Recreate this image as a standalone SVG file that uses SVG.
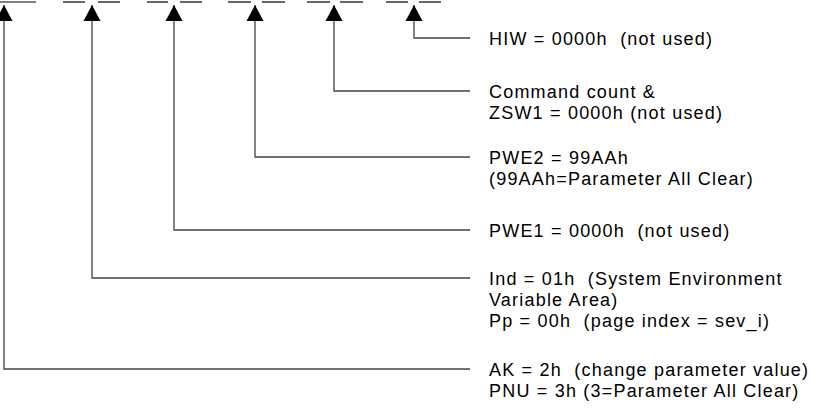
<svg xmlns="http://www.w3.org/2000/svg" width="827" height="409" viewBox="0 0 827 409">
<style>
.t{font-family:"Liberation Sans",Arial,sans-serif;font-size:18px;letter-spacing:1.2px;fill:#000}
.c{fill:none;stroke:#444;stroke-width:1.3}
.u{stroke:#000;stroke-width:1.2}
</style>
<defs>
<marker id="ah" markerWidth="17" markerHeight="17" refX="8.5" refY="0" orient="0" markerUnits="userSpaceOnUse" viewBox="0 0 17 17" overflow="visible">
<path d="M8.5 0 L17 16 L0 16 Z" fill="#000"/>
</marker>
</defs>
<rect width="827" height="409" fill="#fff"/>
<g id="header">
<line class="u" x1="0" y1="2" x2="36" y2="2"/>
<line class="u" x1="63" y1="2" x2="85" y2="2"/>
<line class="u" x1="98" y1="2" x2="120" y2="2"/>
<line class="u" x1="147" y1="2" x2="168" y2="2"/>
<line class="u" x1="180" y1="2" x2="202" y2="2"/>
<line class="u" x1="228" y1="2" x2="251" y2="2"/>
<line class="u" x1="262" y1="2" x2="285" y2="2"/>
<line class="u" x1="307" y1="2" x2="330" y2="2"/>
<line class="u" x1="340" y1="2" x2="363" y2="2"/>
<line class="u" x1="386" y1="2" x2="408" y2="2"/>
<line class="u" x1="419" y1="2" x2="441" y2="2"/>
</g>
<g id="connectors">
<polyline class="c" points="470,369 4,369 4,5" marker-end="url(#ah)"/>
<polyline class="c" points="470,278 92,278 92,5" marker-end="url(#ah)"/>
<polyline class="c" points="470,230 174,230 174,5" marker-end="url(#ah)"/>
<polyline class="c" points="470,157 255,157 255,5" marker-end="url(#ah)"/>
<polyline class="c" points="470,91 334,91 334,5" marker-end="url(#ah)"/>
<polyline class="c" points="470,38 414,38 414,5" marker-end="url(#ah)"/>
</g>
<g id="hiw"><text class="t" x="489" y="44.5" xml:space="preserve">HIW = 0000h  (not used)</text></g>
<g id="zsw1"><text class="t" x="489" y="97.5">Command count &amp;</text><text class="t" x="489" y="118.5">ZSW1 = 0000h (not used)</text></g>
<g id="pwe2"><text class="t" x="489" y="163.5">PWE2 = 99AAh</text><text class="t" x="489" y="184.5">(99AAh=Parameter All Clear)</text></g>
<g id="pwe1"><text class="t" x="489" y="236.5" xml:space="preserve">PWE1 = 0000h  (not used)</text></g>
<g id="ind"><text class="t" x="489" y="284.5" xml:space="preserve">Ind = 01h  (System Environment</text><text class="t" x="489" y="305.5">Variable Area)</text><text class="t" x="489" y="326.5" xml:space="preserve">Pp = 00h  (page index = sev_i)</text></g>
<g id="ak"><text class="t" x="489" y="375.5" xml:space="preserve">AK = 2h  (change parameter value)</text><text class="t" x="489" y="396.5">PNU = 3h (3=Parameter All Clear)</text></g>
</svg>
